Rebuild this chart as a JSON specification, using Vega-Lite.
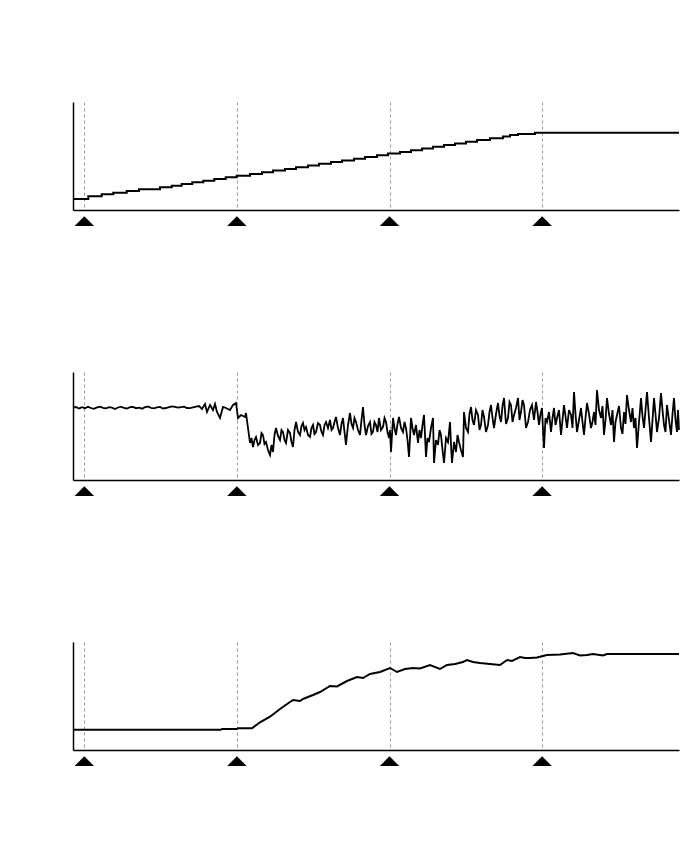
{
  "$schema": "https://vega.github.io/schema/vega-lite/v6.json",
  "padding": {"left": 69, "top": 102, "right": 5, "bottom": 5},
  "background": "white",
  "spacing": 162,
  "bounds": "flush",
  "config": {
    "view": {"stroke": null},
    "axis": {"title": null, "labels": false, "ticks": false, "domainColor": "#000", "domainWidth": 1.5}
  },
  "datasets": {
    "markers": [{"t": 11.3, "pos": -11.2}, {"t": 163.9, "pos": -11.2}, {"t": 316.5, "pos": -11.2}, {"t": 469.1, "pos": -11.2}],
    "p1": [
      {"t": 0, "v": 11}, {"t": 15.3, "v": 13.7}, {"t": 28.7, "v": 15.7}, {"t": 40.3, "v": 17.3}, {"t": 53.7, "v": 19}, {"t": 66, "v": 20.7}, {"t": 87, "v": 22.7}, {"t": 98.7, "v": 24.3}, {"t": 108.7, "v": 26}, {"t": 119.3, "v": 27.7}, {"t": 130.3, "v": 29.3}, {"t": 141.3, "v": 31}, {"t": 152.7, "v": 32.7}, {"t": 163.7, "v": 34.3}, {"t": 177, "v": 36}, {"t": 189, "v": 37.7}, {"t": 200, "v": 39.4}, {"t": 212, "v": 41.1}, {"t": 223, "v": 42.8}, {"t": 235, "v": 44.5}, {"t": 246, "v": 46.2}, {"t": 258, "v": 47.9}, {"t": 269, "v": 49.6}, {"t": 281, "v": 51.3}, {"t": 292, "v": 53}, {"t": 304, "v": 54.7}, {"t": 315, "v": 56.4}, {"t": 327, "v": 58.1}, {"t": 338, "v": 59.8}, {"t": 349, "v": 61.5}, {"t": 360, "v": 63.2}, {"t": 371, "v": 64.9}, {"t": 382, "v": 66.6}, {"t": 393, "v": 68.3}, {"t": 404, "v": 70}, {"t": 417, "v": 71.7}, {"t": 430, "v": 73.4}, {"t": 437, "v": 75}, {"t": 445, "v": 76}, {"t": 462, "v": 77.3}, {"t": 606, "v": 77.3}
    ],
    "p2": [
      {"t": 0, "v": 72.5}, {"t": 3, "v": 73}, {"t": 6, "v": 71.5}, {"t": 9, "v": 72.8}, {"t": 12, "v": 71.8}, {"t": 15, "v": 73.2}, {"t": 18, "v": 72}, {"t": 21, "v": 71.2}, {"t": 24, "v": 72.6}, {"t": 27, "v": 73.4}, {"t": 30, "v": 72.1}, {"t": 33, "v": 71.6}, {"t": 36, "v": 72.9}, {"t": 39, "v": 72.3}, {"t": 42, "v": 71}, {"t": 45, "v": 72.5}, {"t": 48, "v": 73.3}, {"t": 51, "v": 72}, {"t": 54, "v": 71.4}, {"t": 57, "v": 72.8}, {"t": 60, "v": 73}, {"t": 63, "v": 71.8}, {"t": 66, "v": 72.4}, {"t": 69, "v": 71.3}, {"t": 72, "v": 72.9}, {"t": 75, "v": 73.5}, {"t": 78, "v": 72.2}, {"t": 81, "v": 71.7}, {"t": 84, "v": 72.6}, {"t": 87, "v": 73.1}, {"t": 90, "v": 71.5}, {"t": 93, "v": 72}, {"t": 96, "v": 72.8}, {"t": 99, "v": 73.6}, {"t": 102, "v": 73.2}, {"t": 105, "v": 72.4}, {"t": 108, "v": 72.9}, {"t": 111, "v": 73.4}, {"t": 114, "v": 72}, {"t": 117, "v": 71.8}, {"t": 120, "v": 72.6}, {"t": 123, "v": 73.3},
      {"t": 126, "v": 74}, {"t": 129, "v": 71}, {"t": 132, "v": 76}, {"t": 134, "v": 68}, {"t": 137, "v": 75}, {"t": 140, "v": 70}, {"t": 142, "v": 76}, {"t": 144, "v": 68}, {"t": 147, "v": 62}, {"t": 150, "v": 73}, {"t": 153, "v": 72}, {"t": 157, "v": 70}, {"t": 160, "v": 75}, {"t": 163, "v": 77}, {"t": 165, "v": 62}, {"t": 168, "v": 65}, {"t": 172, "v": 63}, {"t": 173, "v": 67},
      {"t": 177, "v": 37}, {"t": 178.5, "v": 42}, {"t": 180, "v": 33}, {"t": 181.5, "v": 40}, {"t": 183, "v": 43}, {"t": 185, "v": 35}, {"t": 187, "v": 37}, {"t": 188.5, "v": 47}, {"t": 190, "v": 45}, {"t": 191.5, "v": 36}, {"t": 193, "v": 38}, {"t": 195, "v": 30}, {"t": 197, "v": 25}, {"t": 198.5, "v": 35}, {"t": 200, "v": 28}, {"t": 201.5, "v": 45}, {"t": 203, "v": 52}, {"t": 205, "v": 44}, {"t": 207, "v": 40}, {"t": 208.5, "v": 50}, {"t": 210, "v": 48}, {"t": 211.5, "v": 40}, {"t": 213, "v": 37}, {"t": 215, "v": 50}, {"t": 217, "v": 47}, {"t": 218.5, "v": 38}, {"t": 220, "v": 33}, {"t": 221.5, "v": 50}, {"t": 223, "v": 58}, {"t": 225, "v": 48}, {"t": 227, "v": 45}, {"t": 228.5, "v": 54}, {"t": 230, "v": 57}, {"t": 231.5, "v": 50}, {"t": 233, "v": 53}, {"t": 235, "v": 45}, {"t": 237, "v": 43}, {"t": 238.5, "v": 52}, {"t": 240, "v": 55}, {"t": 241.5, "v": 46}, {"t": 243, "v": 48}, {"t": 245, "v": 57}, {"t": 247, "v": 55}, {"t": 248.5, "v": 48}, {"t": 250, "v": 45}, {"t": 251.5, "v": 55}, {"t": 253, "v": 58}, {"t": 255, "v": 52}, {"t": 257, "v": 60}, {"t": 258.5, "v": 50}, {"t": 260, "v": 52}, {"t": 261.5, "v": 58}, {"t": 263, "v": 63}, {"t": 265, "v": 52}, {"t": 267, "v": 45}, {"t": 268.5, "v": 56}, {"t": 270, "v": 62}, {"t": 271.5, "v": 48}, {"t": 273, "v": 35}, {"t": 275, "v": 55}, {"t": 277, "v": 67}, {"t": 278.5, "v": 56}, {"t": 280, "v": 52}, {"t": 281.5, "v": 62}, {"t": 283, "v": 58}, {"t": 285, "v": 50}, {"t": 287, "v": 45}, {"t": 288.5, "v": 60}, {"t": 290, "v": 73}, {"t": 291.5, "v": 55}, {"t": 293, "v": 45}, {"t": 295, "v": 54}, {"t": 297, "v": 58}, {"t": 298.5, "v": 46}, {"t": 300, "v": 48}, {"t": 301.5, "v": 58}, {"t": 303, "v": 55}, {"t": 304.5, "v": 48}, {"t": 306, "v": 62}, {"t": 308, "v": 50}, {"t": 310, "v": 53}, {"t": 311.5, "v": 62}, {"t": 313, "v": 58}, {"t": 314.5, "v": 48}, {"t": 316, "v": 42}, {"t": 317, "v": 50}, {"t": 318, "v": 28}, {"t": 319, "v": 45}, {"t": 320, "v": 62}, {"t": 321.5, "v": 52}, {"t": 323, "v": 45}, {"t": 324.5, "v": 56}, {"t": 326, "v": 63}, {"t": 328, "v": 52}, {"t": 330, "v": 48}, {"t": 331.5, "v": 58}, {"t": 333, "v": 52}, {"t": 334.5, "v": 40}, {"t": 336, "v": 23}, {"t": 337, "v": 42}, {"t": 338, "v": 62}, {"t": 339.5, "v": 52}, {"t": 341, "v": 45}, {"t": 343, "v": 55}, {"t": 345, "v": 37}, {"t": 346.5, "v": 50}, {"t": 348, "v": 42}, {"t": 349.5, "v": 55}, {"t": 351, "v": 65}, {"t": 352, "v": 45}, {"t": 353, "v": 23}, {"t": 354.5, "v": 42}, {"t": 356, "v": 38}, {"t": 358, "v": 52}, {"t": 360, "v": 62}, {"t": 360.5, "v": 40}, {"t": 361, "v": 17}, {"t": 363, "v": 40}, {"t": 365, "v": 35}, {"t": 366.5, "v": 50}, {"t": 368, "v": 45}, {"t": 369.5, "v": 30}, {"t": 371, "v": 17}, {"t": 373, "v": 42}, {"t": 375, "v": 38}, {"t": 376, "v": 48}, {"t": 377, "v": 58}, {"t": 378, "v": 35}, {"t": 379, "v": 17}, {"t": 381, "v": 38}, {"t": 383, "v": 28}, {"t": 384.5, "v": 45}, {"t": 386, "v": 38}, {"t": 388, "v": 30}, {"t": 390, "v": 23}, {"t": 390.5, "v": 45},
      {"t": 391, "v": 68}, {"t": 393, "v": 52}, {"t": 395, "v": 48}, {"t": 396.5, "v": 66}, {"t": 398, "v": 73}, {"t": 399.5, "v": 60}, {"t": 401, "v": 55}, {"t": 403, "v": 70}, {"t": 405, "v": 65}, {"t": 406.5, "v": 50}, {"t": 408, "v": 55}, {"t": 409.5, "v": 70}, {"t": 411, "v": 63}, {"t": 413, "v": 48}, {"t": 415, "v": 55}, {"t": 416.5, "v": 68}, {"t": 418, "v": 75}, {"t": 419.5, "v": 62}, {"t": 421, "v": 52}, {"t": 423, "v": 66}, {"t": 425, "v": 77}, {"t": 426.5, "v": 64}, {"t": 428, "v": 58}, {"t": 429.5, "v": 74}, {"t": 431, "v": 82}, {"t": 433, "v": 56}, {"t": 435, "v": 62}, {"t": 436.5, "v": 78}, {"t": 438, "v": 75}, {"t": 439.5, "v": 58}, {"t": 441, "v": 65}, {"t": 443, "v": 72}, {"t": 445, "v": 82}, {"t": 446.5, "v": 60}, {"t": 448, "v": 68}, {"t": 449.5, "v": 80}, {"t": 451, "v": 75}, {"t": 453, "v": 52}, {"t": 455, "v": 58}, {"t": 457, "v": 70}, {"t": 459, "v": 75}, {"t": 461, "v": 60}, {"t": 463, "v": 78}, {"t": 464.5, "v": 68}, {"t": 466, "v": 55}, {"t": 467.5, "v": 66}, {"t": 469, "v": 72}, {"t": 470, "v": 50}, {"t": 471, "v": 32}, {"t": 472.5, "v": 62}, {"t": 474, "v": 58}, {"t": 476, "v": 68}, {"t": 478, "v": 48}, {"t": 479.5, "v": 62}, {"t": 481, "v": 72}, {"t": 482.5, "v": 55}, {"t": 484, "v": 62}, {"t": 486, "v": 70}, {"t": 488, "v": 45}, {"t": 489.5, "v": 60}, {"t": 491, "v": 75}, {"t": 492.5, "v": 64}, {"t": 494, "v": 52}, {"t": 496, "v": 70}, {"t": 498, "v": 65}, {"t": 499.5, "v": 52}, {"t": 501, "v": 88}, {"t": 502.5, "v": 66}, {"t": 504, "v": 48}, {"t": 506, "v": 60}, {"t": 508, "v": 72}, {"t": 509.5, "v": 58}, {"t": 511, "v": 45}, {"t": 512.5, "v": 62}, {"t": 514, "v": 77}, {"t": 516, "v": 66}, {"t": 518, "v": 52}, {"t": 519.5, "v": 58}, {"t": 521, "v": 68}, {"t": 522.5, "v": 55}, {"t": 524, "v": 90}, {"t": 526, "v": 70}, {"t": 528, "v": 62}, {"t": 529.5, "v": 74}, {"t": 531, "v": 45}, {"t": 532.5, "v": 60}, {"t": 534, "v": 82}, {"t": 536, "v": 66}, {"t": 538, "v": 55}, {"t": 539.5, "v": 70}, {"t": 541, "v": 38}, {"t": 542.5, "v": 58}, {"t": 544, "v": 65}, {"t": 546, "v": 74}, {"t": 548, "v": 52}, {"t": 549.5, "v": 46}, {"t": 551, "v": 68}, {"t": 552.5, "v": 56}, {"t": 554, "v": 85}, {"t": 556, "v": 70}, {"t": 558, "v": 58}, {"t": 559.5, "v": 72}, {"t": 561, "v": 52}, {"t": 562.5, "v": 62}, {"t": 564, "v": 32}, {"t": 566, "v": 58}, {"t": 568, "v": 82}, {"t": 569.5, "v": 64}, {"t": 571, "v": 52}, {"t": 572.5, "v": 70}, {"t": 574, "v": 88}, {"t": 576, "v": 62}, {"t": 578, "v": 38}, {"t": 579.5, "v": 60}, {"t": 581, "v": 82}, {"t": 582.5, "v": 66}, {"t": 584, "v": 48}, {"t": 586, "v": 62}, {"t": 588, "v": 87}, {"t": 589.5, "v": 70}, {"t": 591, "v": 55}, {"t": 592.5, "v": 48}, {"t": 594, "v": 75}, {"t": 596, "v": 60}, {"t": 598, "v": 45}, {"t": 599.5, "v": 66}, {"t": 601, "v": 82}, {"t": 602.5, "v": 60}, {"t": 604, "v": 48}, {"t": 605, "v": 70}, {"t": 606, "v": 50}
    ],
    "p3": [
      {"t": 0, "v": 20.3}, {"t": 148, "v": 20.3}, {"t": 149, "v": 21}, {"t": 164, "v": 21}, {"t": 165, "v": 21.7}, {"t": 179, "v": 21.7}, {"t": 187, "v": 27.7}, {"t": 197, "v": 33.3}, {"t": 207, "v": 41}, {"t": 217, "v": 48}, {"t": 220, "v": 50}, {"t": 227, "v": 49}, {"t": 230, "v": 51}, {"t": 240, "v": 55}, {"t": 247, "v": 58}, {"t": 257, "v": 64}, {"t": 264, "v": 63.5}, {"t": 274, "v": 69}, {"t": 284, "v": 73}, {"t": 290, "v": 72}, {"t": 297, "v": 76}, {"t": 307, "v": 78}, {"t": 317, "v": 82}, {"t": 324, "v": 78}, {"t": 332, "v": 81}, {"t": 340, "v": 82}, {"t": 347, "v": 81.5}, {"t": 357, "v": 85}, {"t": 367, "v": 81}, {"t": 374, "v": 85}, {"t": 382, "v": 86}, {"t": 390, "v": 88}, {"t": 394, "v": 90}, {"t": 400, "v": 88}, {"t": 407, "v": 87}, {"t": 417, "v": 86}, {"t": 427, "v": 85}, {"t": 434, "v": 90}, {"t": 439, "v": 89}, {"t": 447, "v": 93}, {"t": 452, "v": 92}, {"t": 457, "v": 92}, {"t": 464, "v": 92.5}, {"t": 470, "v": 94}, {"t": 474, "v": 95}, {"t": 487, "v": 95.5}, {"t": 500, "v": 97}, {"t": 507, "v": 94.5}, {"t": 514, "v": 95}, {"t": 520, "v": 96}, {"t": 530, "v": 94.5}, {"t": 534, "v": 96}, {"t": 606, "v": 96}
    ]
  },
  "vconcat": [
    {
      "width": 606, "height": 108,
      "layer": [
        {
          "data": {"name": "p1"},
          "mark": {"type": "line", "interpolate": "step-after", "color": "#000", "strokeWidth": 2},
          "encoding": {
            "x": {"field": "t", "type": "quantitative", "scale": {"domain": [0, 606], "nice": false}, "axis": {"values": [11.3, 163.9, 316.5, 469.1], "grid": true, "gridColor": "#999", "gridDash": [3, 3], "gridWidth": 1}},
            "y": {"field": "v", "type": "quantitative", "scale": {"domain": [0, 108], "nice": false}, "axis": {"grid": false}}
          }
        },
        {
          "data": {"name": "markers"},
          "mark": {"type": "point", "shape": "M-1,0.5L1,0.5L0,-0.5Z", "filled": true, "color": "#000", "opacity": 1, "size": 380, "strokeWidth": 0},
          "encoding": {
            "x": {"field": "t", "type": "quantitative"},
            "y": {"field": "pos", "type": "quantitative"}
          }
        }
      ]
    },
    {
      "width": 606, "height": 108,
      "layer": [
        {
          "data": {"name": "p2"},
          "mark": {"type": "line", "color": "#000", "strokeWidth": 1.8},
          "encoding": {
            "x": {"field": "t", "type": "quantitative", "scale": {"domain": [0, 606], "nice": false}, "axis": {"values": [11.3, 163.9, 316.5, 469.1], "grid": true, "gridColor": "#999", "gridDash": [3, 3], "gridWidth": 1}},
            "y": {"field": "v", "type": "quantitative", "scale": {"domain": [0, 108], "nice": false}, "axis": {"grid": false}}
          }
        },
        {
          "data": {"name": "markers"},
          "mark": {"type": "point", "shape": "M-1,0.5L1,0.5L0,-0.5Z", "filled": true, "color": "#000", "opacity": 1, "size": 380, "strokeWidth": 0},
          "encoding": {
            "x": {"field": "t", "type": "quantitative"},
            "y": {"field": "pos", "type": "quantitative"}
          }
        }
      ]
    },
    {
      "width": 606, "height": 108,
      "layer": [
        {
          "data": {"name": "p3"},
          "mark": {"type": "line", "color": "#000", "strokeWidth": 2},
          "encoding": {
            "x": {"field": "t", "type": "quantitative", "scale": {"domain": [0, 606], "nice": false}, "axis": {"values": [11.3, 163.9, 316.5, 469.1], "grid": true, "gridColor": "#999", "gridDash": [3, 3], "gridWidth": 1}},
            "y": {"field": "v", "type": "quantitative", "scale": {"domain": [0, 108], "nice": false}, "axis": {"grid": false}}
          }
        },
        {
          "data": {"name": "markers"},
          "mark": {"type": "point", "shape": "M-1,0.5L1,0.5L0,-0.5Z", "filled": true, "color": "#000", "opacity": 1, "size": 380, "strokeWidth": 0},
          "encoding": {
            "x": {"field": "t", "type": "quantitative"},
            "y": {"field": "pos", "type": "quantitative"}
          }
        }
      ]
    }
  ]
}
